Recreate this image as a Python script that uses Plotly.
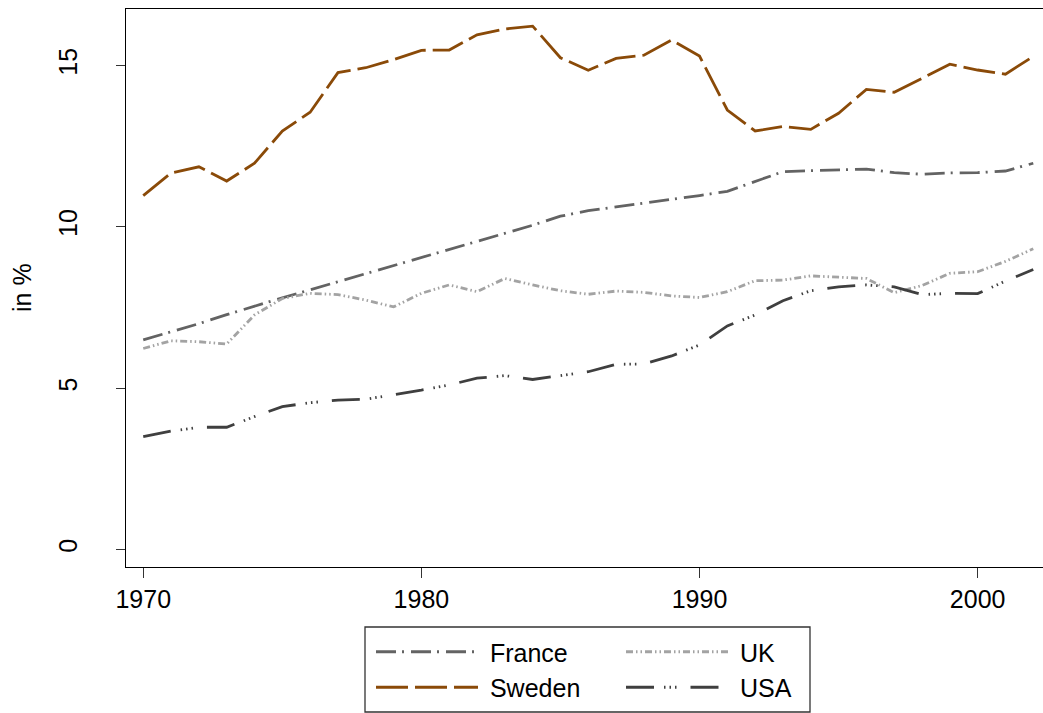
import plotly.graph_objects as go

# Données (en %)
years = list(range(1970, 2003))

france = [6.50, 6.75, 7.00, 7.28, 7.55, 7.80, 8.05, 8.30, 8.55, 8.80,
          9.05, 9.30, 9.55, 9.80, 10.05, 10.33, 10.50, 10.62, 10.73, 10.85,
          10.97, 11.10, 11.40, 11.71, 11.74, 11.77, 11.79, 11.68, 11.63, 11.67,
          11.68, 11.73, 11.97]

sweden = [10.97, 11.67, 11.86, 11.42, 11.97, 12.97, 13.55, 14.78, 14.93, 15.18,
          15.47, 15.48, 15.95, 16.13, 16.22, 15.24, 14.85, 15.22, 15.32, 15.79,
          15.29, 13.62, 12.97, 13.11, 13.02, 13.52, 14.26, 14.17, 14.60, 15.04,
          14.86, 14.73, 15.28]

uk = [6.23, 6.47, 6.44, 6.37, 7.27, 7.78, 7.94, 7.90, 7.73, 7.52,
      7.94, 8.20, 7.99, 8.40, 8.20, 8.02, 7.91, 8.01, 7.97, 7.86,
      7.81, 7.99, 8.33, 8.35, 8.48, 8.44, 8.40, 7.96, 8.18, 8.56,
      8.61, 8.93, 9.32]

usa = [3.50, 3.67, 3.79, 3.79, 4.12, 4.43, 4.55, 4.63, 4.66, 4.79,
       4.94, 5.10, 5.31, 5.39, 5.27, 5.39, 5.51, 5.74, 5.75, 6.00,
       6.34, 6.93, 7.27, 7.71, 8.02, 8.14, 8.20, 8.14, 7.90, 7.94,
       7.93, 8.32, 8.68]

x_ticks = [1970, 1980, 1990, 2000]
y_ticks = [0, 5, 10, 15]

FONT = "Liberation Sans, Arial, sans-serif"
W, H = 1043, 713
PL, PT, PW, PH = 126, 9, 917, 558   # zone de tracé en pixels

series = [
    ("France", france, "#636363", "20px,6px,2px,7px", "legend"),
    ("Sweden", sweden, "#8a4a08", "32px,7px", "legend"),
    ("UK", uk, "#a3a3a3", "7px,3px,1.5px,3px,1.5px,3px", "legend2"),
    ("USA", usa, "#3f3f3f", "28px,10px,1.5px,4px,1.5px,4px,1.5px,14px", "legend2"),
]

fig = go.Figure()
for name, vals, color, dash, leg in series:
    fig.add_trace(go.Scatter(
        x=years, y=vals, name="\u00a0" + name, mode="lines",
        line=dict(color=color, width=2.8, dash=dash),
        legend=leg,
    ))

legend_style = dict(
    orientation="v",
    xref="container", yref="container",
    xanchor="left", yanchor="top",
    font=dict(family=FONT, size=25, color="black"),
    itemwidth=102,
    borderwidth=0,
    bgcolor="rgba(0,0,0,0)",
)

fig.update_layout(
    width=W, height=H,
    margin=dict(l=PL, r=W - PL - PW, t=PT, b=H - PT - PH, autoexpand=False),
    paper_bgcolor="white",
    plot_bgcolor="white",
    font=dict(family=FONT, size=25, color="black"),
    legend=dict(legend_style, x=371 / W, y=1 - 629 / H),
    legend2=dict(legend_style, x=621 / W, y=1 - 629 / H),
    xaxis=dict(
        range=[1969.38, 2002.35],
        tickmode="array", tickvals=x_ticks,
        ticks="outside", ticklen=10, tickwidth=1.3, tickcolor="#333333",
        tickangle=0,
        showline=True, linecolor="black", linewidth=1.4, mirror=True,
        showgrid=False, zeroline=False,
        tickfont=dict(family=FONT, size=25, color="black"),
    ),
    yaxis=dict(
        range=[-0.54, 16.75],
        tickmode="array", tickvals=y_ticks,
        ticks="outside", ticklen=9, tickwidth=1.3, tickcolor="#333333",
        tickangle=-90, ticklabelstandoff=29,
        showline=True, linecolor="black", linewidth=1.4,
        showgrid=False, zeroline=False,
        tickfont=dict(family=FONT, size=25, color="black"),
    ),
    annotations=[dict(
        text="in %", textangle=-90, showarrow=False,
        xref="paper", yref="paper",
        x=(22 - PL) / PW, y=(PT + PH - 288) / PH,
        xanchor="center", yanchor="middle",
        font=dict(family=FONT, size=25, color="black"),
    )],
    shapes=[dict(
        type="rect", xref="paper", yref="paper",
        x0=(365 - PL) / PW, x1=(810 - PL) / PW,
        y0=(PT + PH - 712) / PH, y1=(PT + PH - 627) / PH,
        line=dict(color="#333333", width=1.3),
    )],
)

fig.write_html("out.html", config={"displayModeBar": False},
               post_script="document.body.style.margin='0';")
